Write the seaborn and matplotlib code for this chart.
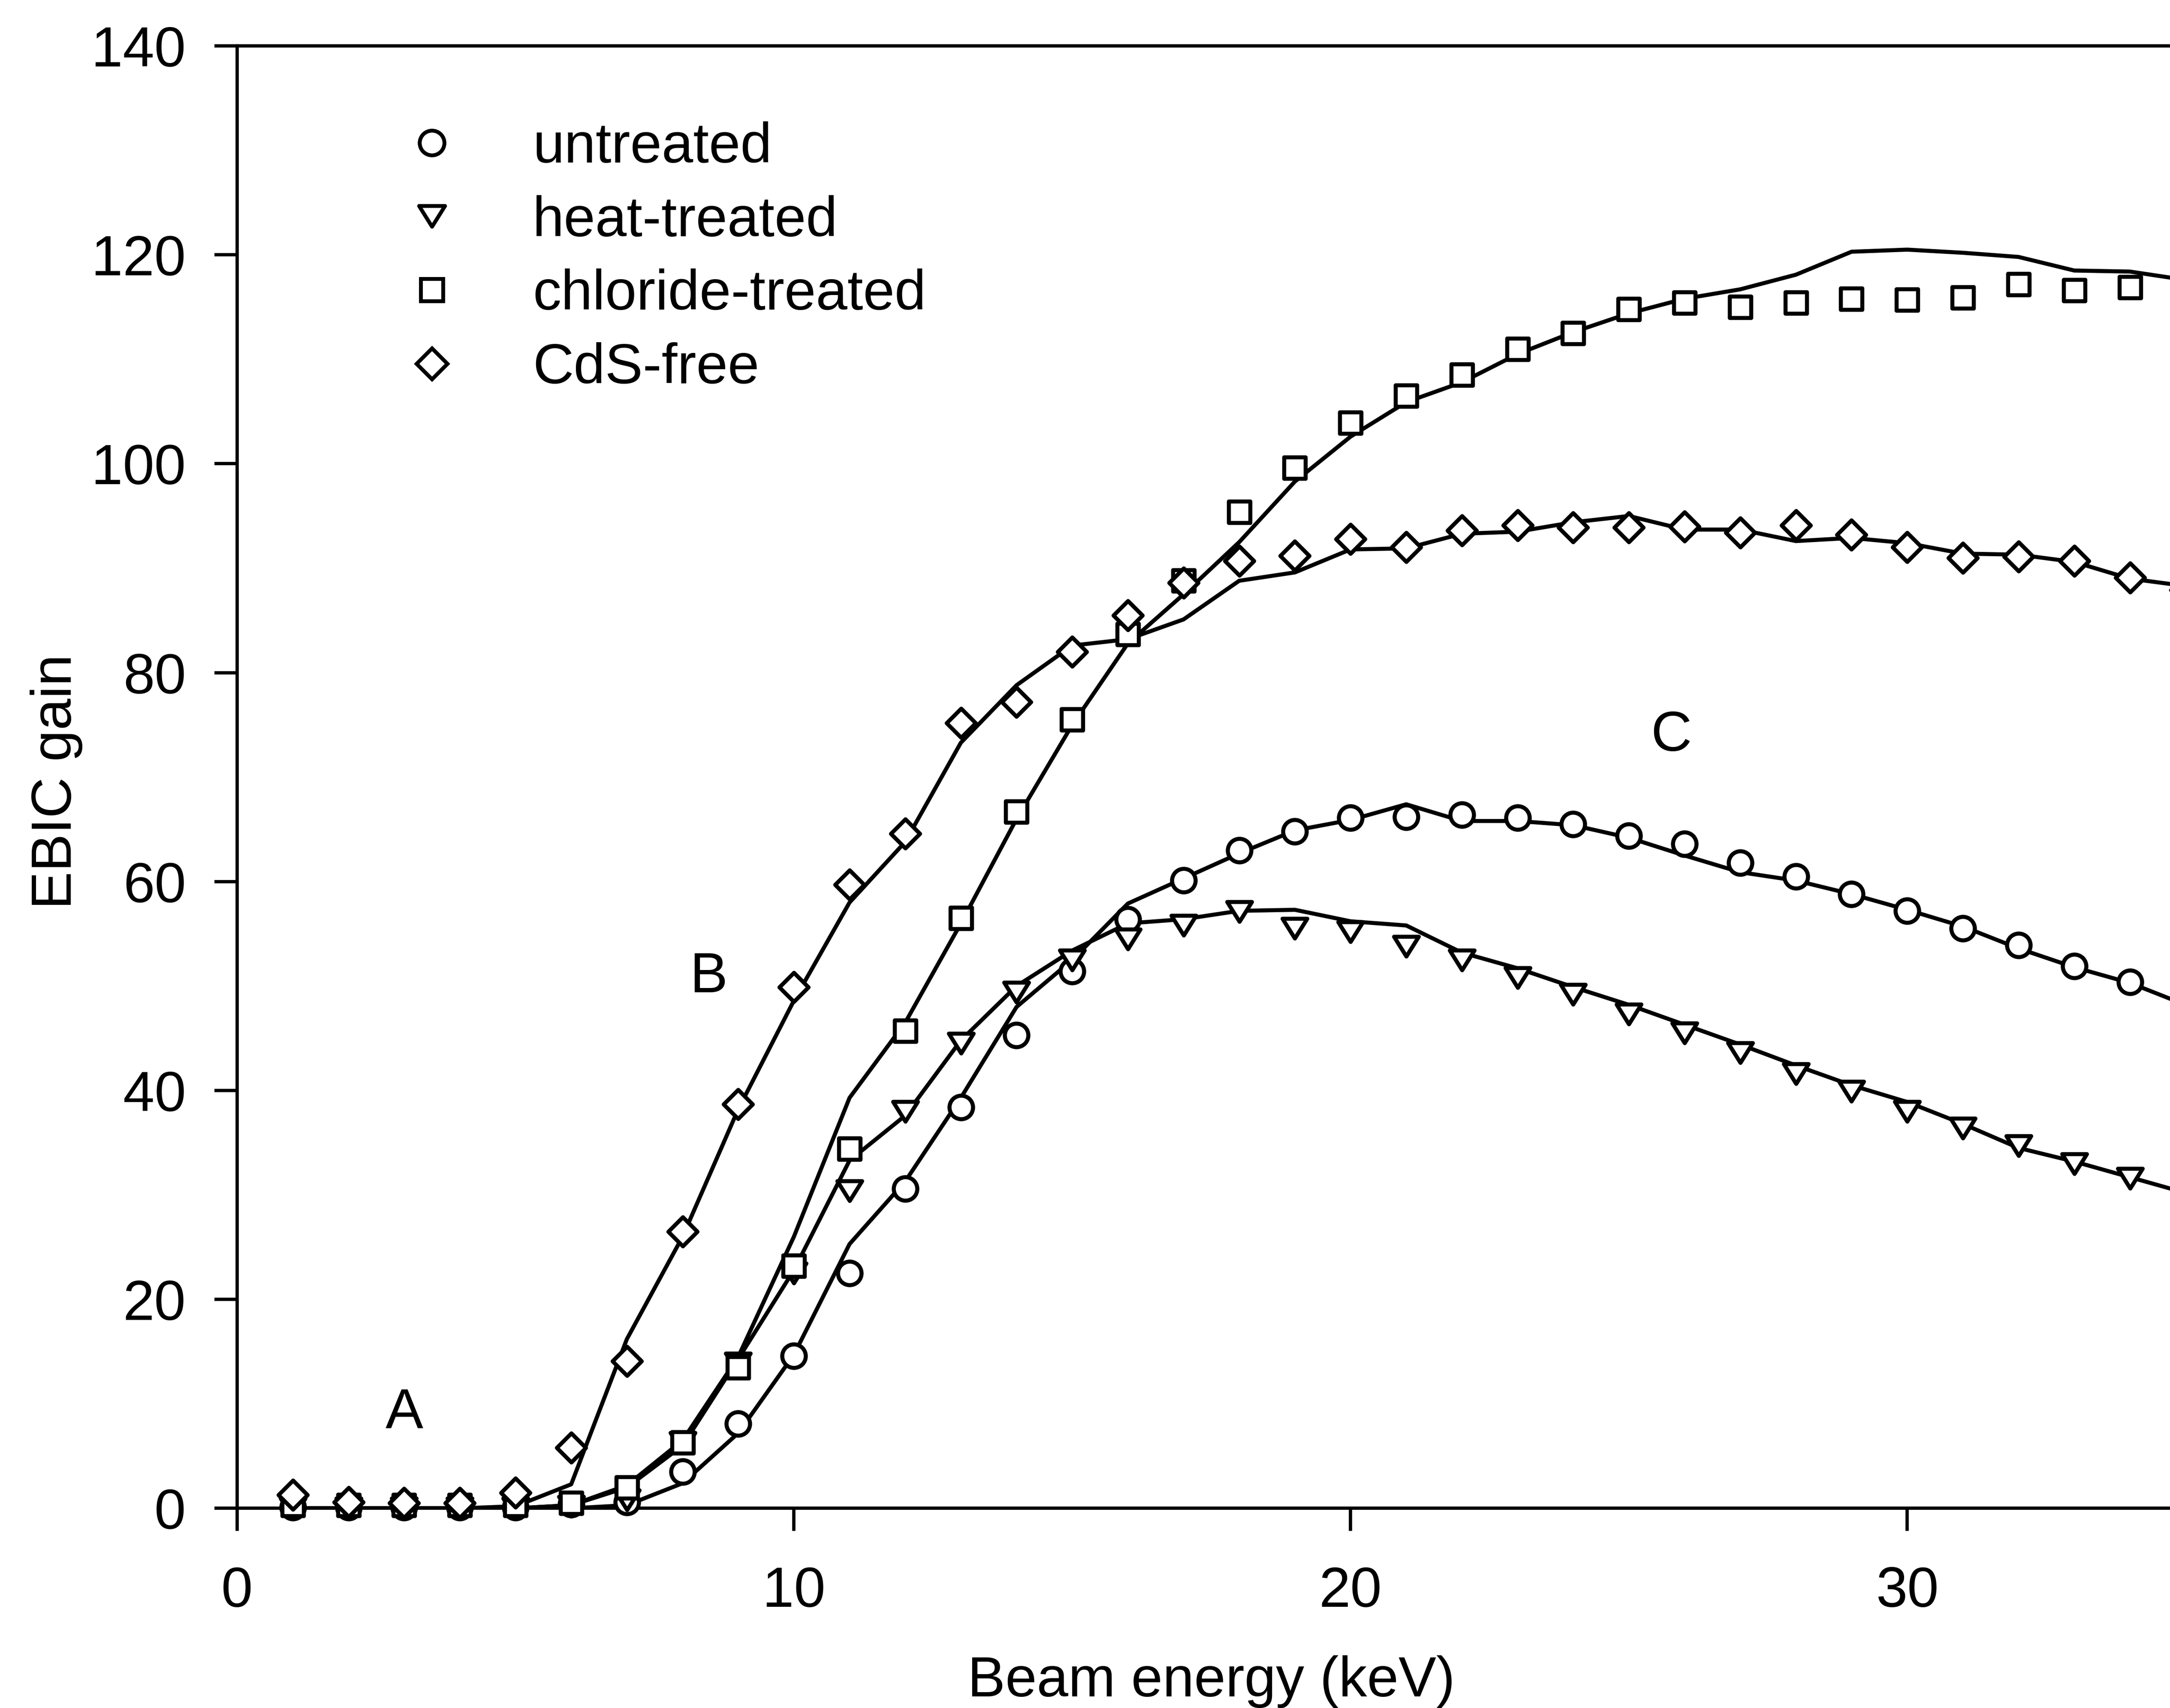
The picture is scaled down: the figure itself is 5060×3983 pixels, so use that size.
import matplotlib
matplotlib.use("Agg")
import matplotlib.pyplot as plt
from matplotlib.path import Path
from matplotlib.lines import Line2D
import seaborn as sns

# ---------------- data ----------------
energy = list(range(1, 36))          # beam energy, keV

# measured EBIC gain (open symbols)
untreated_meas = [0.1, 0.1, 0.1, 0.1, 0.1, 0.4, 0.6, 3.5, 8.1, 14.6,
                  22.5, 30.6, 38.4, 45.3, 51.4, 56.4, 60.1, 63.0, 64.8, 66.1,
                  66.2, 66.4, 66.1, 65.5, 64.4, 63.6, 61.8, 60.5, 58.8, 57.2,
                  55.5, 53.9, 51.9, 50.4]
heat_meas = [0.0, 0.0, 0.0, 0.0, 0.0, 0.2, 0.8, 6.3, 13.9, 22.5,
             30.4, 38.0, 44.5, 49.4, 52.5, 54.5, 55.8, 57.1, 55.5, 55.2,
             53.8, 52.5, 50.8, 49.2, 47.3, 45.5, 43.6, 41.6, 39.9, 38.0,
             36.4, 34.7, 33.0, 31.6]
chloride_meas = [0.3, 0.3, 0.3, 0.3, 0.3, 0.5, 2.0, 6.3, 13.5, 23.2,
                 34.4, 45.7, 56.5, 66.7, 75.5, 83.7, 88.8, 95.4, 99.6, 103.9,
                 106.5, 108.5, 111.0, 112.5, 114.8, 115.4, 115.0, 115.4, 115.8, 115.7,
                 115.9, 117.2, 116.6, 116.9, 115.2]
cdsfree_meas = [1.3, 0.6, 0.5, 0.5, 1.5, 5.8, 14.1, 26.5, 38.7, 49.9,
                59.7, 64.6, 75.2, 77.2, 82.0, 85.5, 88.6, 90.7, 91.2, 92.8,
                92.0, 93.6, 94.1, 93.9, 93.9, 94.0, 93.4, 94.1, 93.2, 92.0,
                91.0, 91.1, 90.7, 89.1, 87.9]

# simulated EBIC gain (solid curves)
untreated_sim = [0.0, 0.0, 0.0, 0.0, 0.0, 0.0, 0.3, 2.4, 7.2, 14.7,
                 25.3, 31.3, 39.3, 48.0, 52.5, 57.9, 60.3, 62.7, 64.9, 65.9,
                 67.4, 65.8, 65.8, 65.4, 64.2, 62.5, 60.9, 60.1, 58.8, 57.3,
                 55.7, 53.6, 51.8, 50.3, 48.2]
heat_sim = [0.0, 0.0, 0.0, 0.0, 0.0, 0.3, 2.0, 6.0, 14.3, 22.8,
            33.3, 37.6, 44.8, 50.0, 53.4, 56.0, 56.4, 57.2, 57.3, 56.2,
            55.8, 53.2, 51.7, 49.9, 48.2, 46.3, 44.4, 42.4, 40.5, 38.9,
            36.8, 34.5, 33.2, 31.7, 30.2]
chloride_sim = [0.0, 0.0, 0.0, 0.0, 0.0, 0.3, 2.2, 6.5, 14.5, 26.0,
                39.3, 46.5, 56.0, 66.0, 75.0, 82.8, 87.5, 92.5, 98.3, 102.6,
                105.9, 107.8, 110.5, 112.6, 114.4, 115.8, 116.7, 118.1, 120.3, 120.5,
                120.2, 119.8, 118.5, 118.4, 117.6]
cdsfree_sim = [0.0, 0.0, 0.0, 0.0, 0.2, 2.3, 16.2, 26.0, 38.2, 48.6,
               58.0, 63.8, 73.3, 78.8, 82.6, 83.2, 85.1, 88.8, 89.6, 91.8,
               91.9, 93.3, 93.5, 94.4, 95.0, 93.7, 93.7, 92.6, 92.9, 92.4,
               91.4, 91.3, 90.6, 89.0, 88.3]

labels = ["untreated", "heat-treated", "chloride-treated", "CdS-free"]
xticks = [0, 10, 20, 30]
yticks = [0, 20, 40, 60, 80, 100, 120, 140]
region_labels = ["A", "B", "C"]
region_x = [3.0, 8.47, 25.76]
region_y = [7.66, 49.4, 72.5]

# ---------------- style ----------------
sns.set_style("ticks")
plt.rcParams["font.family"] = ["Liberation Sans", "DejaVu Sans"]
plt.rcParams["text.color"] = "black"
plt.rcParams["axes.labelcolor"] = "black"
FS = 95
LW = 6.8

# flattened downward triangle
tri = Path([(-1.0, 0.8), (1.0, 0.8), (0.0, -0.8), (-1.0, 0.8)],
           [Path.MOVETO, Path.LINETO, Path.LINETO, Path.CLOSEPOLY])
markers = ["o", tri, "s", "D"]
msizes = [39.5, 41.5, 36.0, 34.5]

fig = plt.figure(figsize=(50.6, 39.83), dpi=100)
left, bottom, top = 0.1093, 0.1169, 0.9731
ax = fig.add_axes([left, bottom, 1.0 - left, top - bottom])

meas = [untreated_meas, heat_meas, chloride_meas, cdsfree_meas]
sims = [untreated_sim, heat_sim, chloride_sim, cdsfree_sim]

for sim in sims:
    sns.lineplot(x=energy, y=sim, color="black", linewidth=LW,
                 estimator=None, sort=False, legend=False, ax=ax, zorder=2)

for i, (vals, m, ms) in enumerate(zip(meas, markers, msizes)):
    sns.scatterplot(x=energy[:len(vals)], y=vals, marker=m, s=ms ** 2,
                    color="white", edgecolor="black", linewidth=LW,
                    legend=False, ax=ax, zorder=3 + i, clip_on=False)

ax.set_xlim(0, 34.72)
ax.set_ylim(0, 140)
ax.set_xticks(xticks)
ax.set_yticks(yticks)
ax.tick_params(axis="both", direction="out", length=38, width=5.5,
               labelsize=FS, color="black", labelcolor="black")
ax.tick_params(axis="x", pad=58)
ax.tick_params(axis="y", pad=48)
ax.minorticks_off()

for side in ["left", "bottom", "top"]:
    ax.spines[side].set_linewidth(5.5)
    ax.spines[side].set_color("black")
ax.spines["right"].set_visible(False)

ax.set_xlabel("Beam energy (keV)", fontsize=FS, color="black")
ax.set_ylabel("EBIC gain", fontsize=FS, color="black")
ax.xaxis.set_label_coords(0.504, -0.1005)
ax.yaxis.set_label_coords(-0.080, 0.497)

for t, xx, yy in zip(region_labels, region_x, region_y):
    ax.text(xx, yy, t, fontsize=FS, ha="center", va="baseline", color="black")

handles = [Line2D([], [], linestyle="none", marker=m, markersize=ms * 1.05,
                  markerfacecolor="white", markeredgecolor="black",
                  markeredgewidth=LW * 0.95)
           for m, ms in zip(markers, msizes)]
ax.legend(handles, labels, loc="upper left", bbox_to_anchor=(0.1860, 0.9290),
          bbox_transform=fig.transFigure, frameon=False, fontsize=FS,
          handlelength=1.0, handletextpad=1.28, labelspacing=0.37,
          borderpad=0, borderaxespad=0, markerscale=1.0)

fig.savefig("out.png", dpi=100, facecolor="white")
